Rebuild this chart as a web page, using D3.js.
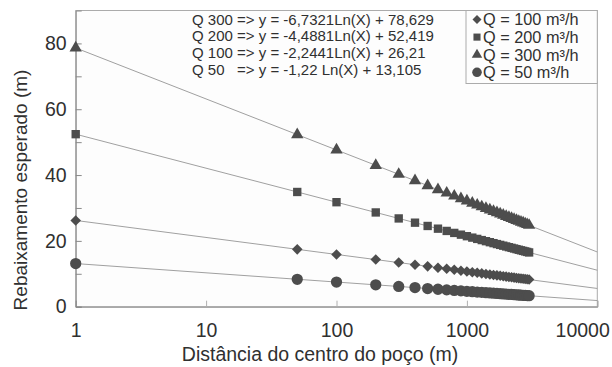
<!DOCTYPE html>
<html><head><meta charset="utf-8">
<script src="https://cdn.jsdelivr.net/npm/d3@7/dist/d3.min.js"></script>
<style>
body{margin:0;background:#fff}
text{font-family:"Liberation Sans",Arial,Helvetica,sans-serif;fill:#303030}
</style>
</head><body><svg id="c" width="612" height="367"></svg>
<script>
// ---- data ----
const distances = [1,50,100,200,300,400,500,600,700,800,900,1000,1100,1200,1300,1400,1500,
  1600,1700,1800,1900,2000,2100,2200,2300,2400,2500,2600,2700,2800,2900,3000];
const q100 = [26.21,17.43,15.88,14.32,13.41,12.76,12.26,11.85,11.51,11.21,10.94,10.71,10.49,10.30,10.12,
  9.95,9.80,9.65,9.52,9.39,9.27,9.15,9.04,8.94,8.84,8.74,8.65,8.56,8.48,8.40,8.32,8.24];
const q200 = [52.42,34.86,31.75,28.64,26.82,25.53,24.53,23.71,23.02,22.42,21.89,21.42,20.99,20.60,20.24,
  19.91,19.60,19.31,19.03,18.78,18.54,18.31,18.09,17.88,17.68,17.49,17.30,17.13,16.96,16.80,16.64,16.49];
const q300 = [78.63,52.29,47.63,42.96,40.23,38.29,36.79,35.56,34.53,33.63,32.83,32.13,31.48,30.90,30.36,
  29.86,29.40,28.96,28.55,28.17,27.80,27.46,27.13,26.82,26.52,26.23,25.96,25.69,25.44,25.19,24.96,24.73];
const q50 = [13.11,8.33,7.49,6.64,6.15,5.80,5.52,5.30,5.11,4.95,4.81,4.68,4.56,4.46,4.36,
  4.27,4.18,4.10,4.03,3.96,3.89,3.83,3.77,3.72,3.66,3.61,3.56,3.51,3.47,3.42,3.38,3.34];
const seriesNames = ["Q = 100 m³/h","Q = 200 m³/h","Q = 300 m³/h","Q = 50 m³/h"];
const seriesSymbols = ["diamond","square","triangle","circle"];
const trendSlopes = [-2.2441,-4.4881,-6.7321,-1.22];
const trendIntercepts = [26.21,52.419,78.629,13.105];
const equations = [
  "Q 300 => y = -6,7321Ln(X) + 78,629",
  "Q 200 => y = -4,4881Ln(X) + 52,419",
  "Q 100 => y = -2,2441Ln(X) + 26,21",
  "Q 50   => y = -1,22 Ln(X) + 13,105"
];
const xTicks = [1,10,100,1000,10000];
const yMajor = [0,20,40,60,80];
const yMinor = [10,30,50,70];
const xTitle = "Distância do centro do poço (m)";
const yTitle = "Rebaixamento esperado (m)";

const seriesValues = [q100,q200,q300,q50];

// ---- layout ----
const svg = d3.select("#c");
const L = 75.7, R = 597.3, T = 10.5, B = 306.7;
const x = d3.scaleLog().domain([1,10000]).range([L,R]);
const y = d3.scaleLinear().domain([0,90]).range([B,T]);
const FONT = '"Liberation Sans",Arial,sans-serif';

svg.append("rect").attr("width",612).attr("height",367).attr("fill","#fff");
svg.append("rect").attr("x",L).attr("y",T).attr("width",R-L).attr("height",B-T)
  .attr("fill","#fdfdfd").attr("stroke","#ababab").attr("stroke-width",1);

// axes
const yAxis = d3.axisLeft(y).tickValues(yMajor.concat(yMinor)).tickSize(-6).tickFormat(d => yMajor.includes(d) ? d : "");
const gy = svg.append("g").attr("transform",`translate(${L},0)`).call(yAxis);
gy.select(".domain").attr("stroke","#8a8a8a");
gy.selectAll(".tick line").attr("stroke","#8a8a8a");
gy.selectAll(".tick text").attr("x",-9).attr("font-size",19.5).attr("fill","#303030").style("font-family",FONT);

const xAxis = d3.axisBottom(x).tickValues(xTicks).tickSize(-6).tickFormat(d3.format("d"));
const gx = svg.append("g").attr("transform",`translate(0,${B})`).call(xAxis);
gx.select(".domain").attr("stroke","#8a8a8a");
gx.selectAll(".tick line").attr("stroke","#b0b0b0");
gx.selectAll(".tick text").attr("y",16).attr("font-size",19.5).attr("fill","#303030").style("font-family",FONT);
gx.selectAll(".tick").filter(d => d===10000).select("text").attr("text-anchor","end").attr("x",12);
gx.selectAll(".tick").filter(d => d===1).select("line").remove();

// trend lines
const trendG = svg.append("g");
trendSlopes.forEach((a,i) => {
  const b = trendIntercepts[i];
  const pts = [1,10000].map(d => [x(d), y(a*Math.log(d)+b)]);
  trendG.append("path").attr("d", d3.line()(pts)).attr("stroke","#a0a0a0").attr("stroke-width",1).attr("fill","none");
});

// markers
const symMap = {
  diamond: {type:d3.symbolSquare, size:56, rot:45},
  square: {type:d3.symbolSquare, size:70, rot:0},
  triangle: {type:d3.symbolTriangle, size:66, rot:0},
  circle: {type:d3.symbolCircle, size:100, rot:0}
};
const mColor = "#4d4d4d";
seriesValues.forEach((vals,i) => {
  const s = symMap[seriesSymbols[i]];
  const gen = d3.symbol().type(s.type).size(s.size);
  svg.append("g").selectAll("path").data(distances.map((d,j)=>[d,vals[j]])).join("path")
    .attr("d", gen())
    .attr("transform", d => `translate(${x(d[0])},${y(d[1])}) rotate(${s.rot})`)
    .attr("fill", mColor);
});

// equations
svg.append("g").selectAll("text").data(equations).join("text")
  .attr("x",192).attr("y",(d,i)=>24.5+i*16.8).attr("font-size",15).attr("xml:space","preserve")
  .style("white-space","pre").text(d=>d);

// legend
const lg = svg.append("g");
lg.append("rect").attr("x",466).attr("y",T).attr("width",R-466).attr("height",73)
  .attr("fill","#fdfdfd").attr("stroke","#ababab");
seriesNames.forEach((n,i) => {
  const s = symMap[seriesSymbols[i]];
  const cy = 19.5 + i*17.6;
  lg.append("path").attr("d", d3.symbol().type(s.type).size(s.size*0.72)())
    .attr("transform",`translate(477,${cy}) rotate(${s.rot})`).attr("fill",mColor);
  lg.append("text").attr("x",483).attr("y",cy+5.8).attr("font-size",16.3).text(n);
});

// titles
svg.append("text").attr("x",320).attr("y",361).attr("text-anchor","middle").attr("font-size",19.5).text(xTitle);
svg.append("text").attr("transform","translate(27,190) rotate(-90)").attr("text-anchor","middle")
  .attr("font-size",19).text(yTitle);
</script>
</body></html>
